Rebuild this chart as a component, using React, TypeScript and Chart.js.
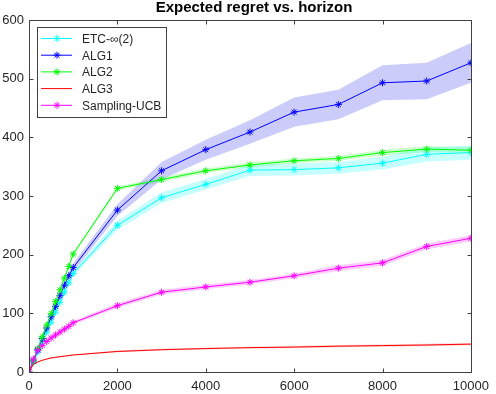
import React, { useEffect, useRef } from "react";
import { Chart, registerables } from "chart.js";

Chart.register(...registerables);

const horizons = [0, 100, 200, 300, 400, 500, 600, 700, 800, 900, 1000, 2000, 3000, 4000, 5000, 6000, 7000, 8000, 9000, 10000];

const etcMean = [0, 17, 34, 51, 68, 85, 102, 119, 136, 152, 168, 250, 297, 320, 344, 345, 348, 356, 371, 374];
const etcSpread = [0, 1, 2, 2, 3, 3, 4, 4, 5, 5, 5, 8, 9, 9, 10, 10, 10, 11, 12, 12];

const alg1Mean = [0, 19, 38, 57, 75, 94, 112, 130, 148, 164, 178, 276, 343, 379, 409, 443, 456, 493, 496, 527];
const alg1Spread = [0, 1, 2, 3, 3, 4, 4, 5, 5, 6, 7, 10, 15, 17, 20, 25, 25, 30, 31, 34];

const alg2Mean = [0, 20, 40, 60, 80, 100, 120, 140, 160, 180, 201, 313, 328, 343, 353, 360, 364, 374, 380, 378];
const alg2Spread = [0, 1, 1, 1, 2, 2, 2, 2, 2, 3, 3, 3, 4, 4, 4, 4, 4, 5, 5, 5];

const alg3Mean = [0, 13, 17, 20, 22, 24, 25, 26, 27, 28, 29, 35, 38, 40, 41.5, 42.5, 44, 45, 46, 47.5];
const alg3Spread = [0, 0.5, 1, 1, 1, 1, 1, 1, 1, 1, 1, 1.5, 1.5, 1.5, 1.5, 2, 2, 2, 2, 2];

const ucbMean = [0, 22, 37, 45, 52, 58, 63, 68, 73, 78, 84, 113, 136, 145, 153, 164, 177, 186, 214, 228];
const ucbSpread = [0, 1, 2, 2, 2, 3, 3, 3, 3, 3, 3, 4, 4, 4, 4, 4, 5, 5, 5, 5];

const xTicks = [0, 2000, 4000, 6000, 8000, 10000];
const yTicks = [0, 100, 200, 300, 400, 500, 600];

const seriesNames = ["ETC-\u221e(2)", "ALG1", "ALG2", "ALG3", "Sampling-UCB"];
const seriesColors = ["#00ffff", "#0000ff", "#00ff00", "#ff0000", "#ff00ff"];
const bandColors = ["rgba(0,255,255,0.22)", "rgba(0,0,230,0.2)", "rgba(0,255,0,0.2)", "rgba(255,0,0,0.2)", "rgba(255,0,255,0.2)"];
const seriesMarkers = [true, true, true, false, true];
const seriesMeans = [etcMean, alg1Mean, alg2Mean, alg3Mean, ucbMean];
const seriesSpreads = [etcSpread, alg1Spread, alg2Spread, alg3Spread, ucbSpread];

const FONT = "'Liberation Sans', Arial, Helvetica, sans-serif";
const AXIS_COLOR = "#404040";

const framePlugin = {
  id: "frame",
  afterDraw(chart: any) {
    const ctx = chart.ctx;
    const { left, right, top, bottom } = chart.chartArea;
    const xs = chart.scales.x;
    const ys = chart.scales.y;
    ctx.save();
    ctx.strokeStyle = AXIS_COLOR;
    ctx.lineWidth = 1;
    const L = Math.round(left) + 0.5;
    const R = Math.round(right) + 0.5;
    const T = Math.round(top) + 0.5;
    const B = Math.round(bottom) + 0.5;
    ctx.beginPath();
    ctx.rect(L, T, R - L, B - T);
    const tl = 4;
    xTicks.forEach((v) => {
      const px = Math.round(xs.getPixelForValue(v)) + 0.5;
      ctx.moveTo(px, B);
      ctx.lineTo(px, B - tl);
      ctx.moveTo(px, T);
      ctx.lineTo(px, T + tl);
    });
    yTicks.forEach((v) => {
      const py = Math.round(ys.getPixelForValue(v)) + 0.5;
      ctx.moveTo(L, py);
      ctx.lineTo(L + tl, py);
      ctx.moveTo(R, py);
      ctx.lineTo(R - tl, py);
    });
    ctx.stroke();

    // title
    ctx.fillStyle = "#000";
    ctx.font = `bold 15px ${FONT}`;
    ctx.textAlign = "center";
    ctx.textBaseline = "alphabetic";
    ctx.fillText("Expected regret vs. horizon", 254, 12);

    // legend
    const bx = 37.5, by = 27.5, bw = 129, bh = 90;
    ctx.fillStyle = "#fff";
    ctx.fillRect(bx, by, bw, bh);
    ctx.strokeStyle = AXIS_COLOR;
    ctx.strokeRect(bx, by, bw, bh);
    ctx.font = `12px ${FONT}`;
    ctx.textAlign = "left";
    ctx.textBaseline = "middle";
    seriesNames.forEach((name, i) => {
      const y = 38.5 + i * 16.7;
      ctx.strokeStyle = seriesColors[i];
      ctx.lineWidth = 1;
      ctx.beginPath();
      ctx.moveTo(41, y);
      ctx.lineTo(72, y);
      ctx.stroke();
      if (seriesMarkers[i]) {
        const r = 3.5;
        const cx = 57;
        ctx.beginPath();
        ctx.moveTo(cx - r, y);
        ctx.lineTo(cx + r, y);
        ctx.moveTo(cx, y - r);
        ctx.lineTo(cx, y + r);
        const d = r * 0.7071;
        ctx.moveTo(cx - d, y - d);
        ctx.lineTo(cx + d, y + d);
        ctx.moveTo(cx - d, y + d);
        ctx.lineTo(cx + d, y - d);
        ctx.stroke();
      }
      ctx.fillStyle = "#262626";
      ctx.fillText(name, 82, y + 1);
    });
    ctx.restore();
  },
};

export default function App() {
  const canvasRef = useRef<HTMLCanvasElement | null>(null);

  useEffect(() => {
    if (!canvasRef.current) return;
    const datasets: any[] = [];
    seriesNames.forEach((name, i) => {
      const mean = seriesMeans[i];
      const spread = seriesSpreads[i];
      datasets.push({
        label: name + " upper",
        data: horizons.map((x, k) => ({ x, y: mean[k] + spread[k] })),
        borderWidth: 0,
        borderColor: "rgba(0,0,0,0)",
        backgroundColor: bandColors[i],
        pointRadius: 0,
        fill: "+1",
        order: 20 + i,
      });
      datasets.push({
        label: name + " lower",
        data: horizons.map((x, k) => ({ x, y: mean[k] - spread[k] })),
        borderWidth: 0,
        borderColor: "rgba(0,0,0,0)",
        backgroundColor: "rgba(0,0,0,0)",
        pointRadius: 0,
        fill: false,
        order: 20 + i,
      });
    });
    seriesNames.forEach((name, i) => {
      const mean = seriesMeans[i];
      datasets.push({
        label: name,
        data: horizons.map((x, k) => ({ x, y: mean[k] })),
        borderColor: seriesColors[i],
        backgroundColor: seriesColors[i],
        borderWidth: 1,
        pointStyle: "star",
        pointRadius: seriesMarkers[i] ? 3.5 : 0,
        pointBorderWidth: 1,
        pointBorderColor: seriesColors[i],
        fill: false,
        tension: 0,
        order: 10 - i,
      });
    });

    const chart = new Chart(canvasRef.current, {
      type: "line",
      data: { datasets },
      options: {
        animation: false,
        responsive: false,
        devicePixelRatio: 1,
        layout: { padding: { top: 20, right: 21, left: 0, bottom: 0 } },
        plugins: { legend: { display: false }, tooltip: { enabled: false }, title: { display: false } },
        scales: {
          x: {
            type: "linear",
            min: 0,
            max: 10000,
            grid: { display: false, drawTicks: false },
            border: { display: false },
            ticks: {
              stepSize: 2000,
              maxRotation: 0,
              padding: 7,
              color: "#262626",
              font: { family: FONT, size: 13 },
              callback: (v: any) => String(v),
            },
            afterFit: (s: any) => {
              s.height = 22;
            },
          },
          y: {
            type: "linear",
            min: 0,
            max: 600,
            grid: { display: false, drawTicks: false },
            border: { display: false },
            ticks: {
              stepSize: 100,
              padding: 5,
              color: "#262626",
              font: { family: FONT, size: 13 },
              callback: (v: any) => String(v),
            },
            afterFit: (s: any) => {
              s.width = 29;
            },
          },
        },
      },
      plugins: [framePlugin],
    });
    return () => chart.destroy();
  }, []);

  return (
    <div style={{ position: "fixed", left: 0, top: 0, width: 496, height: 394, background: "#fff" }}>
      <canvas ref={canvasRef} width={496} height={394} />
    </div>
  );
}
